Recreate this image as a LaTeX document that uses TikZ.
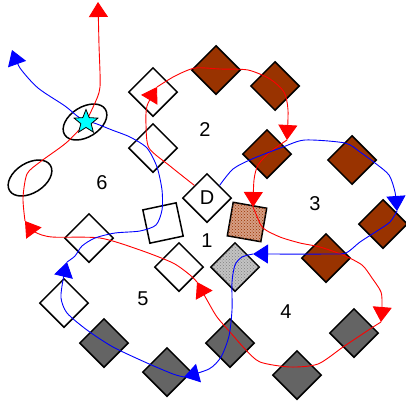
\documentclass[tikz,border=0pt]{standalone}
\usepackage{fontspec}
\setmainfont{Liberation Sans}
\usetikzlibrary{shapes.geometric,arrows.meta,patterns}
\definecolor{brn}{RGB}{153,51,0}
\definecolor{dgray}{RGB}{100,100,100}
\definecolor{salm}{RGB}{214,158,132}
\definecolor{lgray}{RGB}{195,195,195}
\definecolor{cyn}{RGB}{0,255,255}
\begin{document}
\begin{tikzpicture}[x=1pt,y=-1pt,
  dia/.style={diamond, draw=black, line width=1.5pt, minimum width=49pt, minimum height=49pt, inner sep=0pt},
  sqr/.style={rectangle, draw=black, line width=1.5pt, minimum size=34pt, inner sep=0pt},
  wd/.style={dia, fill=white},
  bd/.style={dia, fill=brn},
  gd/.style={dia, fill=dgray},
  ell/.style={ellipse, draw=black, line width=1.5pt, minimum width=48pt, minimum height=30pt, inner sep=0pt, rotate=32},
  lbl/.style={font=\fontsize{20}{24}\selectfont, inner sep=0pt},
  tip/.style={-{Triangle[length=15pt 0 0,width=19pt 0 0]}},
  rl/.style={draw=red, line width=0.9pt, tip},
  bl/.style={draw=blue, line width=0.9pt, tip},
  tx/.style={smooth, tension=0.45}
]
\useasboundingbox (0,0) rectangle (406,405);

% white diamonds
\node[wd] (w1) at (153,92) {};
\node[wd] (w2) at (153,148) {};
\node[wd] (w3) at (89,238) {};
\node[wd] (w4) at (64,303) {};
\node[wd] (w5) at (179,267) {};
\node[wd, font=\fontsize{20}{24}\selectfont] (D) at (207,198) {D};
\node[sqr, fill=white, rotate=12] (ws) at (163,223) {};
% brown diamonds
\node[bd] (b1) at (216,70) {};
\node[bd] (b2) at (275,86) {};
\node[bd] (b3) at (267,154) {};
\node[bd] (b4) at (352,160) {};
\node[bd] (b5) at (383,224) {};
\node[bd] (b6) at (326,258) {};
\node[sqr, fill=salm, postaction={pattern=crosshatch dots, pattern color=brn}, rotate=-10] (bs) at (247,222) {};
% gray
\node[dia, fill=lgray, postaction={pattern=crosshatch dots, pattern color=gray}] (gt) at (235,267) {};
\node[gd] (g1) at (104,343) {};
\node[gd] (g2) at (167,372) {};
\node[gd] (g3) at (230,343) {};
\node[gd] (g4) at (297,375) {};
\node[gd] (g5) at (354,333) {};
% ellipses
\node[ell] (e1) at (85,122) {};
\node[ell] (e2) at (30,178) {};

% labels
\node[lbl] (l6) at (102,183) {6};
\node[lbl] (l2) at (205,130) {2};
\node[lbl] (l3) at (315,204) {3};
\node[lbl] (l1) at (207,241) {1};
\node[lbl] (l5) at (143,299) {5};
\node[lbl] (l4) at (286,312) {4};

% junctions
\coordinate (r1) at (157,87);
\coordinate (r2) at (287,140);
\coordinate (r3) at (253,207);
\coordinate (r4) at (381,322);
\coordinate (r5) at (197,282);
\coordinate (r6) at (25,221);
\coordinate (r7) at (98,2);
\coordinate (c1) at (397,211);
\coordinate (c2) at (253,254);
\coordinate (c3) at (184,377);
\coordinate (c4) at (67,262);
\coordinate (c5) at (12,50);

% red chain
\draw[rl] plot[tx] coordinates {(D.north west) (170,166) (149,148) (146,125) (147,106) (r1)};
\draw[rl] plot[tx] coordinates {(r1) (175,76) (195,68) (220,69) (248,70) (270,79) (284,92) (288,110) (r2)};
\draw[rl] plot[tx] coordinates {(r2) (270,152) (258,165) (254,180) (r3)};
\draw[rl] plot[tx] coordinates {(r3) (256,214) (263,228) (280,237) (300,243) (320,247) (343,255) (362,265) (372,278) (381,292) (382,306) (r4)};
\draw[rl] plot[tx] coordinates {(r4) (370,329) (343,347) (318,364) (290,367) (260,362) (245,349) (230,332) (217,317) (207,300) (r5)};
\draw[rl] plot[tx] coordinates {(r5) (190,275) (173,263) (140,250) (100,238) (52,237) (35,232) (r6)};
\draw[rl] plot[tx] coordinates {(r6) (23,198) (27,174) (40,162) (66,143) (84,124) (94,105) (100,87) (99,45) (r7)};

% blue chain
\draw[bl] plot[tx] coordinates {(D.north east) (233,169) (252,159) (283,147) (305,140) (345,143) (360,152) (375,163) (389,175) (395,192) (c1)};
\draw[bl] plot[tx] coordinates {(c1) (390,222) (377,231) (360,242) (346,253) (330,254) (c2)};
\draw[bl] plot[tx] coordinates {(c2) (242,257) (235,265) (232,282) (232,310) (229,336) (221,357) (209,369) (c3)};
\draw[bl] plot[tx] coordinates {(c3) (173,374) (147,363) (113,347) (87,330) (67,313) (61,298) (63,280) (c4)};
\draw[bl] plot[tx] coordinates {(c4) (75,256) (82,246) (95,238) (115,233) (140,231) (156,225) (162,210) (162,190) (157,167) (147,148) (130,137) (112,130) (97,124) (80,118) (65,106) (38,88) (20,68) (c5)};

% star
\node[star, star points=5, star point ratio=2.3, minimum size=25pt, inner sep=0pt, fill=cyn, draw=black, line width=0.8pt] (st) at (86,122) {};
\end{tikzpicture}
\end{document}
